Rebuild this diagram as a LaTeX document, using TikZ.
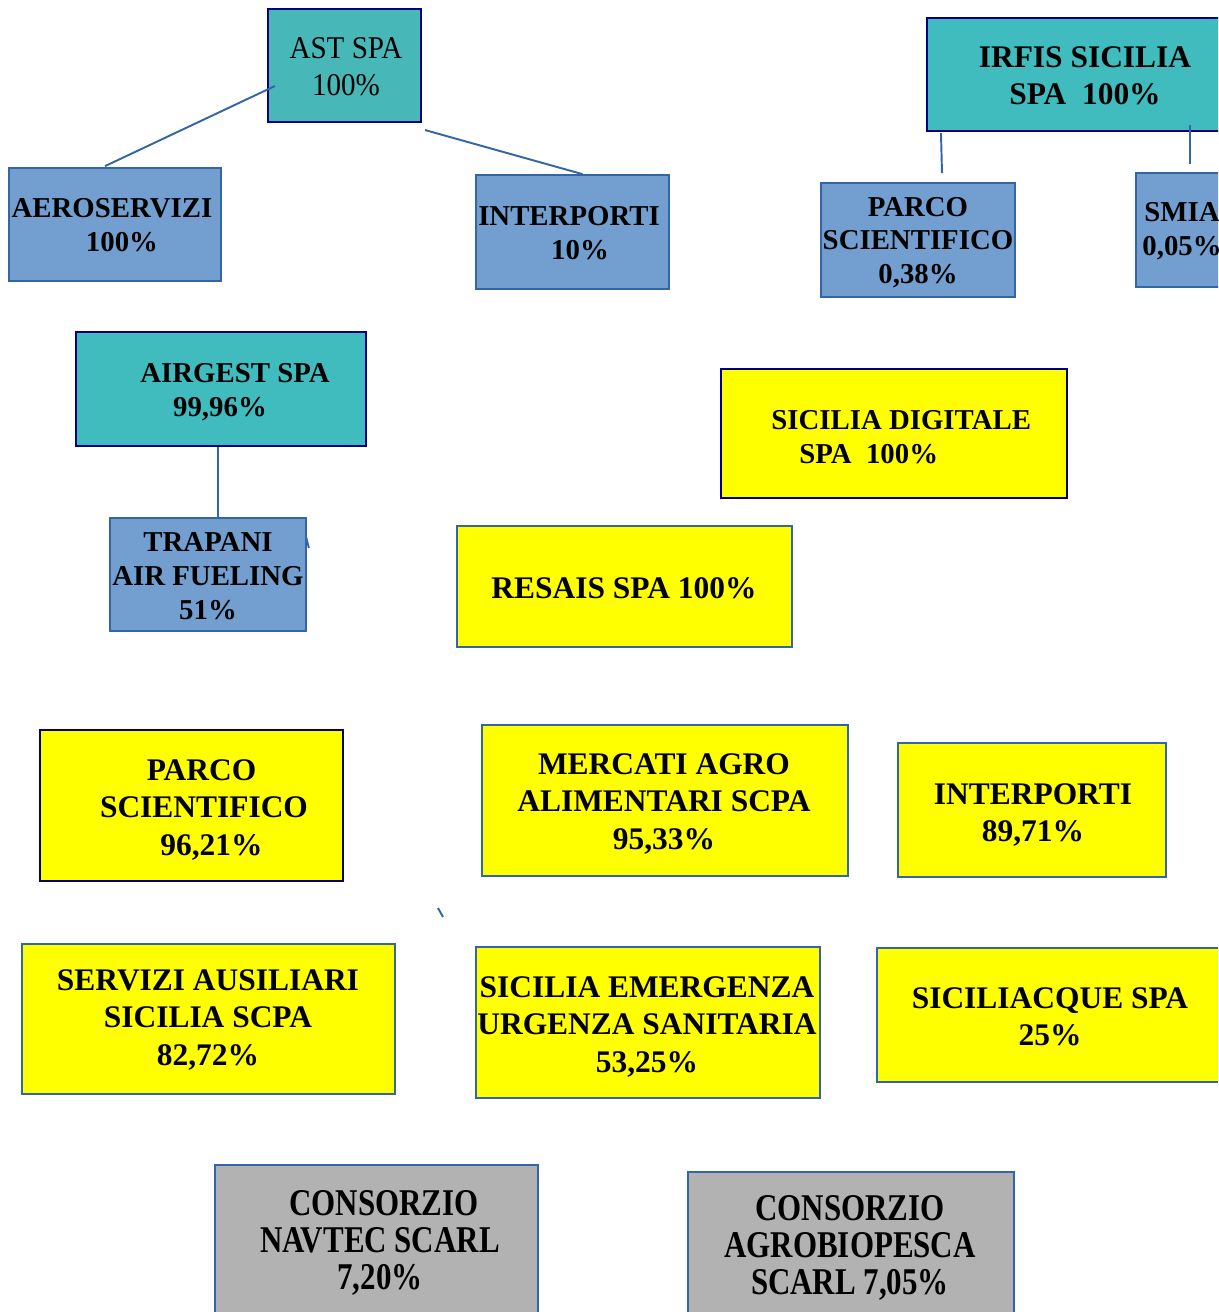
\documentclass[tikz,border=0pt]{standalone}
\usepackage{fontspec}
\usepackage{xcolor}
\usepackage{tikz}
\usetikzlibrary{positioning,calc}
\setmainfont{Liberation Serif}
\newfontfamily\condserif[FakeStretch=0.82]{Liberation Serif}
\newfontfamily\astserif[FakeStretch=0.92]{Liberation Serif}
\definecolor{tealfill}{RGB}{64,188,190}
\definecolor{astfill}{RGB}{71,183,183}
\definecolor{steelfill}{RGB}{114,159,207}
\definecolor{steelline}{RGB}{52,101,164}
\definecolor{navyline}{RGB}{0,0,128}
\definecolor{greyfill}{RGB}{178,178,178}
\definecolor{lemon}{RGB}{255,255,0}

\begin{document}
\begin{tikzpicture}[x=0.02cm, y=-0.02cm,
    tealbox/.style={draw=navyline, line width=1.2pt, rectangle, fill=tealfill},
    bluebox/.style={draw=steelline, line width=1pt, rectangle, fill=steelfill},
    yellowbox/.style={draw=steelline, line width=1pt, rectangle, fill=lemon},
    yellownavy/.style={draw=navyline, line width=1.2pt, rectangle, fill=lemon},
    greybox/.style={draw=steelline, line width=1pt, rectangle, fill=greyfill},
    smalltxt/.style={inner sep=0pt, align=center, font=\bfseries\fontsize{16.4}{19.2}\selectfont},
    bigtxt/.style={inner sep=0pt, align=center, font=\bfseries\fontsize{17.9}{21.2}\selectfont},
    constxt/.style={inner sep=0pt, align=center, font=\condserif\bfseries\fontsize{21.5}{21}\selectfont},
    asttxt/.style={inner sep=0pt, align=center, font=\astserif\fontsize{18}{21}\selectfont},
    link/.style={draw=steelline, line width=1.1pt}]
\useasboundingbox (0,0) rectangle (1218,1312);
\clip (0,0) rectangle (1218,1312);

% AST group
\node[tealbox, fill=astfill, minimum width=3.06cm, minimum height=2.26cm] (ast) at (344.5,65.5) {};
\node[asttxt] (ast-txt) at (346,67) {AST SPA\\100\%};
\node[bluebox, minimum width=4.24cm, minimum height=2.26cm] (aero) at (115,224.5) {};
\node[smalltxt] (aero-txt) at (112,225) {AEROSERVIZI\\\hspace*{0.4cm}100\%};
\node[bluebox, minimum width=3.86cm, minimum height=2.28cm] (int10) at (572.5,232) {};
\node[smalltxt] (int10-txt) at (569,233) {INTERPORTI\\\hspace*{0.44cm}10\%};
\draw[link] ($(ast.west)+(8,20.5)$) -- ($(aero.north)+(-10,-1)$);
\draw[link] ($(ast.south east)+(3,7)$) -- ($(int10.north)+(10,0)$);

% IRFIS group
\node[tealbox, minimum width=6.32cm, minimum height=2.26cm] (irfis) at (1085,74.5) {};
\node[bigtxt] (irfis-txt) at (1085,76) {IRFIS SICILIA\\SPA~~100\%};
\node[bluebox, minimum width=3.88cm, minimum height=2.28cm] (parco038) at (918,240) {};
\node[smalltxt] (parco038-txt) at (918,242.5) {PARCO\\SCIENTIFICO\\0,38\%};
\node[bluebox, minimum width=1.84cm, minimum height=2.28cm] (smia) at (1182,230) {};
\node[smalltxt] (smia-txt) at (1182,231) {SMIA\\0,05\%};
\draw[link] ($(irfis.south west)+(15,1)$) -- ($(parco038.north)+(24,-9)$);
\draw[link] ($(irfis.south)+(105,-7)$) -- ($(smia.north)+(8,-8)$);

% AIRGEST group
\node[tealbox, minimum width=5.80cm, minimum height=2.28cm] (airgest) at (221,389) {};
\node[smalltxt] (airgest-txt) at (235,392) {AIRGEST SPA\\99,96\%\hspace*{0.6cm}};
\node[bluebox, minimum width=3.92cm, minimum height=2.26cm] (trapani) at (208,574.5) {};
\node[smalltxt] (trapani-txt) at (208,576) {TRAPANI\\AIR FUELING\\51\%};
\draw[link] ($(airgest.south)+(-3,0)$) -- ($(trapani.north)+(10,0)$);
\draw[link] ($(trapani.north east)+(-1,19)$) -- ++(3,12);

% Regione direct holdings
\node[yellownavy, minimum width=6.92cm, minimum height=2.58cm] (sicdig) at (894,433.5) {};
\node[smalltxt, align=left, anchor=west] (sicdig-txt) at (771,437) {SICILIA DIGITALE\\\hspace*{0.56cm}SPA~~100\%};
\node[yellowbox, minimum width=6.70cm, minimum height=2.42cm] (resais) at (624.5,586.5) {};
\node[bigtxt] (resais-txt) at (624,588) {RESAIS SPA 100\%};
\node[yellownavy, minimum width=6.06cm, minimum height=3.02cm] (parco9621) at (191.5,805.5) {};
\node[bigtxt] (parco9621-txt) at (204,810) {\hspace*{-0.1cm}PARCO\\SCIENTIFICO\\\hspace*{0.3cm}96,21\%};
\node[yellowbox, minimum width=7.32cm, minimum height=3.02cm] (mercati) at (665,800.5) {};
\node[bigtxt] (mercati-txt) at (664,804) {MERCATI AGRO\\ALIMENTARI SCPA\\95,33\%};
\node[yellowbox, minimum width=5.36cm, minimum height=2.68cm] (int89) at (1032,810) {};
\node[bigtxt] (int89-txt) at (1033,815) {INTERPORTI\\89,71\%};
\coordinate (stray) at (438,908);
\draw[link] (stray) -- ++(5,9);
\node[yellowbox, minimum width=7.46cm, minimum height=3.00cm] (servizi) at (208.5,1019) {};
\node[bigtxt] (servizi-txt) at (208,1020) {SERVIZI AUSILIARI\\SICILIA SCPA\\82,72\%};
\node[yellowbox, minimum width=6.88cm, minimum height=3.02cm] (sicemerg) at (648,1022.5) {};
\node[bigtxt] (sicemerg-txt) at (647,1027) {SICILIA EMERGENZA\\URGENZA SANITARIA\\53,25\%};
\node[yellowbox, minimum width=6.92cm, minimum height=2.68cm] (siciliacque) at (1050,1015) {};
\node[bigtxt] (siciliacque-txt) at (1050,1017) {SICILIACQUE SPA\\25\%};

% Consorzi
\node[greybox, minimum width=6.46cm, minimum height=3.04cm] (navtec) at (376.5,1241) {};
\node[constxt] (navtec-txt) at (380,1243) {\hspace*{0.16cm}CONSORZIO\\NAVTEC SCARL\\7,20\%};
\node[greybox, minimum width=6.52cm, minimum height=2.96cm] (agro) at (851,1246) {};
\node[constxt] (agro-txt) at (850,1248) {CONSORZIO\\AGROBIOPESCA\\SCARL 7,05\%};

\end{tikzpicture}
\end{document}
